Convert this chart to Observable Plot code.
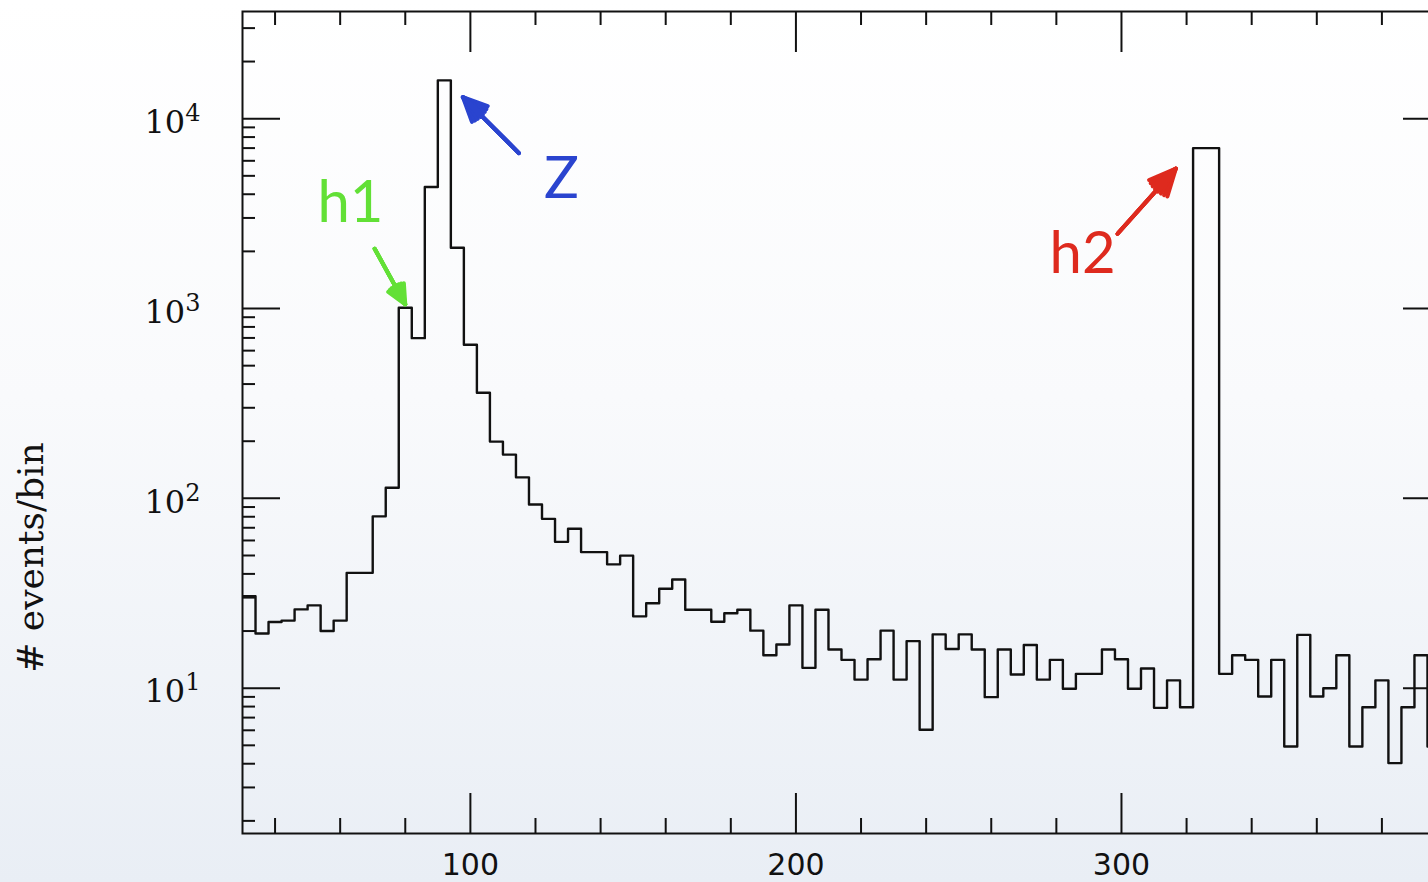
<!DOCTYPE html>
<html>
<head>
<meta charset="utf-8">
<script src="https://cdn.jsdelivr.net/npm/d3@7"></script>
<script src="https://cdn.jsdelivr.net/npm/@observablehq/plot@0.6"></script>
<style>
html, body { margin: 0; padding: 0; width: 1428px; height: 882px; overflow: hidden; }
body { background: linear-gradient(to bottom, #ffffff 0%, #f9fafc 45%, #e9eef5 100%); }
#chart { width: 1428px; height: 882px; overflow: hidden; }
#chart svg { max-width: none !important; }
</style>
</head>
<body>
<div id="chart"></div>
<script>
// Bin edges (GeV), 4 GeV bins
const binEdges = [30,34,38,42,46,50,54,58,62,66,70,74,78,82,86,90,94,98,102,106,110,114,118,122,126,130,134,138,142,146,150,154,158,162,166,170,174,178,182,186,190,194,198,202,206,210,214,218,222,226,230,234,238,242,246,250,254,258,262,266,270,274,278,282,286,290,294,298,302,306,310,314,318,322,326,330,334,338,342,346,350,354,358,362,366,370,374,378,382,386,390,394,398];
// events per bin (one value per bin)
const counts = [30.5,19.4,22.3,22.7,26.0,27.3,20.0,22.7,40.5,40.5,80.4,113.8,1010,698,4365,15920,2089,644,360,199,170,129,92.9,78,59,69.2,52.1,52.1,44.9,49.9,23.9,28.0,33.4,37.4,25.9,25.9,22.4,24.8,25.9,20.1,14.9,17.0,27.3,12.8,25.9,16.0,14.1,11.1,14.2,20.1,11.1,17.7,6.04,19.2,16.1,19.2,16.0,8.97,16.0,11.8,16.9,11.1,14.1,9.93,11.9,11.9,16.0,14.2,9.93,12.7,7.88,11.0,7.94,7000,7000,11.9,14.9,14.1,9.04,14.1,4.93,19.1,9.04,10.0,14.9,4.93,7.94,11.0,4.03,7.94,14.9,4.93];

const xDomain = [30, 398];
const yDomain = [1.716, 36700];

const xMajorTicks = [100, 200, 300];
const xMajorLabels = ["100", "200", "300"];
const xMinorTicks = [40,60,80,120,140,160,180,220,240,260,280,320,340,360,380];
const yMajorTicks = [10, 100, 1000, 10000];
const yMajorExponents = ["1", "2", "3", "4"];
const yMinorTicks = [2,3,4,5,6,7,8,9,20,30,40,50,60,70,80,90,200,300,400,500,600,700,800,900,2000,3000,4000,5000,6000,7000,8000,9000,20000,30000];
const yTitle = "# events/bin";

// annotations (data coordinates)
const annLabels = ["h1", "Z", "h2"];
const annColors = ["#62e036", "#2a44cf", "#de2a1e"];
const annX = [53.0, 122.6, 277.9];
const annY = [2845, 3800, 1531];
const arrowX1 = [70.6, 114.9, 298.8];
const arrowY1 = [2065, 6590, 2478];
const arrowX2 = [80.0, 97.7, 316.7];
const arrowY2 = [1052, 13000, 5460];

const hist = binEdges.map((x, i) => ({x, y: counts[Math.min(i, counts.length - 1)]}));
const annots = annLabels.map((t, i) => ({t, c: annColors[i], x: annX[i], y: annY[i]}));
const arrows = annColors.map((c, i) => ({c, x1: arrowX1[i], y1: arrowY1[i], x2: arrowX2[i], y2: arrowY2[i]}));
const xLab = new Map(xMajorTicks.map((v, i) => [v, xMajorLabels[i]]));
const yLab = new Map(yMajorTicks.map((v, i) => [v, "10^" + yMajorExponents[i]]));

const tickCommon = {label: null, fill: "none", stroke: "#111", strokeWidth: 2};

const chart = Plot.plot({
  width: 1440,
  height: 882,
  marginLeft: 242,
  marginRight: 0,
  marginTop: 11,
  marginBottom: 49,
  style: {background: "transparent", color: "#111", maxWidth: "none"},
  x: {domain: xDomain, label: null},
  y: {type: "log", domain: yDomain, label: null},
  marks: [
    // ticks, pointing inward
    Plot.axisY({anchor: "left", ticks: yMajorTicks, tickSize: -38, ...tickCommon}),
    Plot.axisY({anchor: "left", ticks: yMinorTicks, tickSize: -13, ...tickCommon}),
    Plot.axisY({anchor: "right", ticks: yMajorTicks, tickSize: -38, ...tickCommon}),
    Plot.axisY({anchor: "right", ticks: yMinorTicks, tickSize: -13, ...tickCommon}),
    Plot.axisX({anchor: "bottom", ticks: xMajorTicks, tickSize: -40, ...tickCommon}),
    Plot.axisX({anchor: "bottom", ticks: xMinorTicks, tickSize: -15, ...tickCommon}),
    Plot.axisX({anchor: "top", ticks: xMajorTicks, tickSize: -40, ...tickCommon}),
    Plot.axisX({anchor: "top", ticks: xMinorTicks, tickSize: -13, ...tickCommon}),
    // tick labels
    Plot.axisY({anchor: "left", ticks: yMajorTicks, tickSize: 0, tickPadding: 42, label: null,
      tickFormat: d => yLab.get(d), fontSize: 32, fontFamily: "DejaVu Serif", fill: "#111", dy: 4}),
    Plot.axisX({anchor: "bottom", ticks: xMajorTicks, tickSize: 0, tickPadding: 20, label: null,
      tickFormat: d => xLab.get(d), fontSize: 30, fontFamily: "DejaVu Sans", fill: "#111"}),
    // axis title
    Plot.text([yTitle], {text: d => d, frameAnchor: "left", dx: -211, dy: 135, rotate: -90,
      fontSize: 36, fontFamily: "DejaVu Serif", fill: "#111", textAnchor: "middle"}),
    // frame
    Plot.frame({stroke: "#111", strokeWidth: 2}),
    // histogram
    Plot.line(hist, {x: "x", y: "y", curve: "step-after", stroke: "#111", strokeWidth: 2.4, clip: true}),
    // arrows (fan of heads to fill the arrowhead)
    ...[50, 36, 22, 8].map(a => Plot.arrow(arrows, {x1: "x1", y1: "y1", x2: "x2", y2: "y2", stroke: "c",
      strokeWidth: 4, headLength: 20, headAngle: a})),
    // labels
    Plot.text(annots, {x: "x", y: "y", text: "t", fill: "c", fontSize: 58, fontFamily: "Lato",
      textAnchor: "start", lineAnchor: "bottom"})
  ]
});

// turn "10^n" tick labels into a base with a real superscript
d3.select(chart).selectAll("text").each(function() {
  const s = this.textContent;
  const m = /^10\^(\d)$/.exec(s);
  if (!m) return;
  const t = d3.select(this);
  t.text("10");
  t.append("tspan").attr("dy", "-0.5em").attr("font-size", "0.75em").text(m[1]);
});
document.getElementById("chart").appendChild(chart);
</script>
</body>
</html>
